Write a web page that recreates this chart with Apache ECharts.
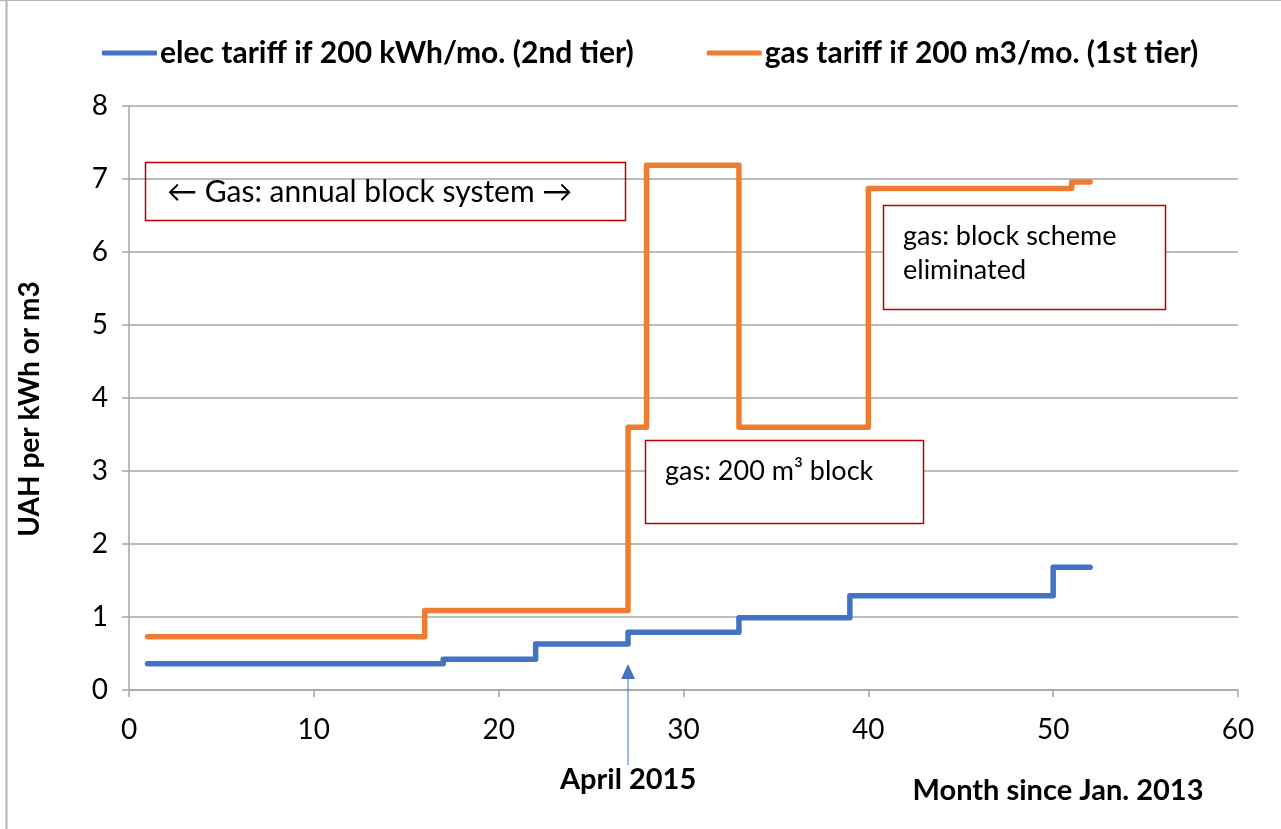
<!DOCTYPE html>
<html>
<head>
<meta charset="utf-8">
<script src="https://cdn.jsdelivr.net/npm/echarts@6/dist/echarts.min.js"></script>
<style>
  html, body { margin: 0; padding: 0; background: #fff; }
  #chart { width: 1281px; height: 829px; }
</style>
</head>
<body>
<div id="chart"></div>
<script>
// ---- data ----
const elecName = 'elec tariff if 200 kWh/mo. (2nd tier)';
const gasName = 'gas tariff if 200 m3/mo. (1st tier)';
const elecMonths = [1, 17, 22, 27, 33, 39, 50, 52];
const elecValues = [0.36, 0.42, 0.63, 0.79, 0.99, 1.29, 1.68, 1.68];
const gasMonths = [1, 16, 27, 28, 33, 40, 51, 52];
const gasValues = [0.73, 1.09, 3.6, 7.19, 3.6, 6.87, 6.96, 6.96];
const xTicks = [0, 10, 20, 30, 40, 50, 60];
const yTicks = [0, 1, 2, 3, 4, 5, 6, 7, 8];
const arrowMonth = 27;
const arrowLabel = 'April 2015';
const xAxisTitle = 'Month since Jan. 2013';
const yAxisTitle = 'UAH per kWh or m3';
const noteAnnual = '\u2190 Gas: annual block system \u2192';
const noteBlock = 'gas: 200 m\u00B3 block';
const noteElim = 'gas: block scheme\neliminated';

const FONT = 'Lato, Carlito, "Open Sans", sans-serif';
const BLUE = '#4472C4';
const ORANGE = '#ED7D31';
const GRID = '#A6A6A6';
const RED = '#C00000';

const chart = echarts.init(document.getElementById('chart'), null, { renderer: 'canvas' });

function pairs(xs, ys) { return xs.map((x, i) => [x, ys[i]]); }

const option = {
  animation: false,
  backgroundColor: '#ffffff',
  textStyle: { fontFamily: FONT },
  legend: {
    top: 33,
    left: 97,
    itemWidth: 55,
    itemHeight: 5,
    itemGap: 73,
    icon: 'roundRect',
    textStyle: { fontFamily: FONT, fontSize: 30, fontWeight: 'bold', color: '#000', padding: [0, 0, 0, -2] },
    data: [elecName, gasName]
  },
  grid: { left: 129, right: 43, top: 106, bottom: 139, containLabel: false },
  xAxis: {
    type: 'value',
    min: xTicks[0], max: xTicks[xTicks.length - 1], interval: 10,
    axisLine: { show: true, onZero: false, lineStyle: { color: GRID, width: 1.5 } },
    axisTick: { show: true, inside: false, length: 7, lineStyle: { color: GRID, width: 1.5 } },
    axisLabel: { fontFamily: FONT, fontSize: 28, color: '#000', margin: 26 },
    splitLine: { show: false }
  },
  yAxis: {
    type: 'value',
    min: yTicks[0], max: yTicks[yTicks.length - 1], interval: 1,
    axisLine: { show: true, lineStyle: { color: GRID, width: 1.5 } },
    axisTick: { show: true, inside: false, length: 7, lineStyle: { color: GRID, width: 1.5 } },
    axisLabel: { fontFamily: FONT, fontSize: 28, color: '#000', margin: 21 },
    splitLine: { show: true, lineStyle: { color: GRID, width: 1.5 } }
  },
  series: [
    {
      name: elecName, type: 'line', step: 'end', showSymbol: false, symbol: 'none',
      data: pairs(elecMonths, elecValues),
      lineStyle: { color: BLUE, width: 5.5, cap: 'round', join: 'round' },
      itemStyle: { color: BLUE }, z: 3
    },
    {
      name: gasName, type: 'line', step: 'end', showSymbol: false, symbol: 'none',
      data: pairs(gasMonths, gasValues),
      lineStyle: { color: ORANGE, width: 5.5, cap: 'round', join: 'round' },
      itemStyle: { color: ORANGE }, z: 3
    }
  ]
};
chart.setOption(option);

// annotations placed after the axes exist
const ax = chart.convertToPixel({ xAxisIndex: 0 }, arrowMonth);
const y0 = chart.convertToPixel({ yAxisIndex: 0 }, 0);

chart.setOption({
  graphic: [
    // frame lines
    { type: 'line', shape: { x1: 6.5, y1: 0, x2: 6.5, y2: 829 }, style: { stroke: '#B4B4B4', lineWidth: 2 }, silent: true },
    { type: 'line', shape: { x1: 0, y1: 0.5, x2: 1281, y2: 0.5 }, style: { stroke: '#B4B4B4', lineWidth: 1 }, silent: true },
    // y axis title
    { type: 'text', x: 30, y: 409, rotation: Math.PI / 2, style: { text: yAxisTitle, fontFamily: FONT, fontSize: 28, fontWeight: 'bold', fill: '#000', align: 'center', verticalAlign: 'middle' }, z: 12 },
    // annual block box (no fill)
    { type: 'rect', shape: { x: 145.5, y: 162.5, width: 480, height: 58 }, style: { fill: 'none', stroke: RED, lineWidth: 1.5 }, z: 10 },
    { type: 'text', x: 167, y: 192, style: { text: noteAnnual, fontFamily: FONT, fontSize: 30, fill: '#000', verticalAlign: 'middle' }, z: 11 },
    // block eliminated box
    { type: 'rect', shape: { x: 883.5, y: 205.5, width: 282, height: 104 }, style: { fill: '#fff', stroke: RED, lineWidth: 1.5 }, z: 10 },
    { type: 'text', x: 903, y: 219, style: { text: noteElim, fontFamily: FONT, fontSize: 27, lineHeight: 34, fill: '#000' }, z: 11 },
    // 200 m3 block box
    { type: 'rect', shape: { x: 645.5, y: 440.5, width: 278, height: 83 }, style: { fill: '#fff', stroke: RED, lineWidth: 1.5 }, z: 10 },
    { type: 'text', x: 665, y: 471, style: { text: noteBlock, fontFamily: FONT, fontSize: 27, fill: '#000', verticalAlign: 'middle' }, z: 11 },
    // arrow to April 2015
    { type: 'line', shape: { x1: ax, y1: y0 + 75, x2: ax, y2: y0 - 14 }, style: { stroke: BLUE, lineWidth: 1 }, z: 12 },
    { type: 'polygon', shape: { points: [[ax, y0 - 26], [ax - 7, y0 - 11], [ax + 7, y0 - 11]] }, style: { fill: BLUE }, z: 12 },
    { type: 'text', x: ax, y: y0 + 90, style: { text: arrowLabel, fontFamily: FONT, fontSize: 29, fontWeight: 'bold', fill: '#000', align: 'center', verticalAlign: 'middle' }, z: 12 },
    // x axis title
    { type: 'text', x: 1058, y: 791, style: { text: xAxisTitle, fontFamily: FONT, fontSize: 29, fontWeight: 'bold', fill: '#000', align: 'center', verticalAlign: 'middle' }, z: 12 }
  ]
});
</script>
</body>
</html>
